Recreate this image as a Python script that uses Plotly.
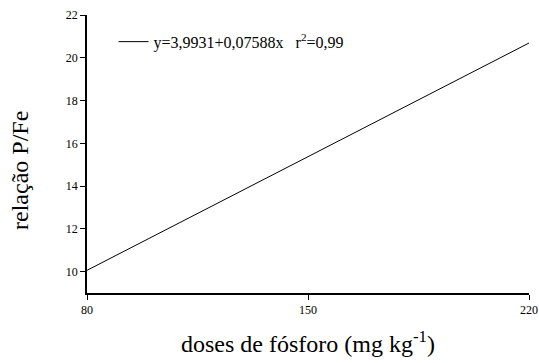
import plotly.graph_objects as go

doses = [80, 220]
relacao = [10.06, 20.69]
legend_label = "y=3,9931+0,07588x&nbsp;&nbsp;&nbsp;r<sup>2</sup>=0,99"
x_ticks = [80, 150, 220]
y_ticks = [10, 12, 14, 16, 18, 20, 22]
x_title = "doses de fósforo (mg kg<sup>-1</sup>)"
y_title = "relação P/Fe"

font = "Liberation Serif, Times New Roman, serif"

fig = go.Figure()
fig.add_trace(go.Scatter(x=doses, y=relacao, mode="lines", name=legend_label,
                         line=dict(color="black", width=1), showlegend=True))

fig.update_layout(
    width=539, height=363,
    margin=dict(l=87, r=10, t=15, b=70),
    plot_bgcolor="white", paper_bgcolor="white",
    font=dict(family=font, color="black"),
    showlegend=True,
    legend=dict(x=0.06, y=0.965, xanchor="left", yanchor="top",
                bgcolor="rgba(0,0,0,0)", font=dict(size=16, family=font, color="black"),
                itemwidth=30),
    xaxis=dict(range=[80, 220], tickvals=x_ticks, ticks="outside", ticklen=5,
               tickcolor="black", showline=True, linecolor="black", linewidth=1.5,
               showgrid=False, zeroline=False, automargin=False,
               tickfont=dict(size=12, color="black", family=font),
               title=dict(text=x_title, font=dict(size=24, color="black"), standoff=19)),
    yaxis=dict(range=[9, 22], tickvals=y_ticks, ticks="outside", ticklen=5,
               tickcolor="black", showline=True, linecolor="black", linewidth=1.5,
               showgrid=False, zeroline=False, automargin=False,
               tickfont=dict(size=12, color="black", family=font)),
    annotations=[dict(text=y_title, textangle=-90, xref="paper", yref="paper",
                      x=-0.152, y=0.442, xanchor="center", yanchor="middle",
                      showarrow=False, font=dict(size=24, family=font, color="black"))],
)

fig.write_html("out.html")
